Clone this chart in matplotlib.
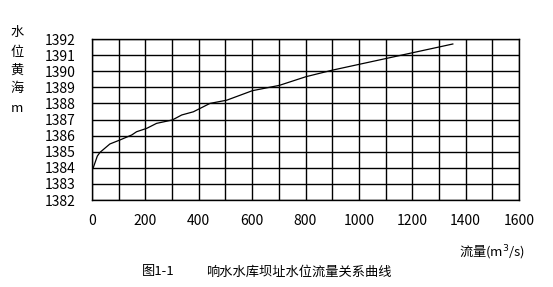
import numpy as np
import matplotlib
matplotlib.use('Agg')
import matplotlib.pyplot as plt

plt.rcParams['font.family'] = ['Noto Sans CJK SC', 'DejaVu Sans']

# stage-discharge curve
flow = [4, 20, 30, 67, 105, 149, 167, 205, 242, 301, 336, 380, 442, 505,
        601, 702, 802, 902, 1002, 1105, 1202, 1305, 1352]
level = [1383.97, 1384.73, 1384.96, 1385.48, 1385.73, 1386.04, 1386.24,
         1386.45, 1386.76, 1386.97, 1387.28, 1387.48, 1388.0, 1388.2,
         1388.79, 1389.12, 1389.66, 1390.07, 1390.43, 1390.8, 1391.15,
         1391.52, 1391.69]
xticks = [0, 200, 400, 600, 800, 1000, 1200, 1400, 1600]
yticks = [1382, 1383, 1384, 1385, 1386, 1387, 1388, 1389, 1390, 1391, 1392]

W, H = 553, 287
fig = plt.figure(figsize=(W / 100, H / 100), dpi=100)
ax = fig.add_axes([92 / W, 1 - 200 / H, 427 / W, 161 / H])

ax.plot(flow, level, color='black', lw=0.9)
ax.set_xlim(0, 1600)
ax.set_ylim(1382, 1392)
ax.set_xticks(xticks)
ax.set_xticks(np.arange(0, 1601, 100), minor=True)
ax.set_yticks(yticks)
ax.grid(True, which='both', color='black', lw=1.0)
ax.tick_params(which='both', length=0, labelsize=10, colors='black')
ax.tick_params(axis='x', pad=10)
ax.tick_params(axis='y', pad=12)
for s in ax.spines.values():
    s.set_linewidth(1.0)

# vertical y label
for ch, y in zip(['水', '位', '黄', '海', 'm'], [33, 52, 70, 88, 108]):
    fig.text(17 / W, 1 - y / H, ch, ha='center', va='center', fontsize=9.5)

fig.text(525 / W, 1 - 253 / H, '流量(m$^3$/s)', ha='right', va='center', fontsize=9.5)
fig.text(142 / W, 1 - 272 / H, '图1-1', ha='left', va='center', fontsize=9.5)
fig.text(206 / W, 1 - 272 / H, '响水水库坝址水位流量关系曲线', ha='left', va='center', fontsize=9.5)

fig.savefig('out.png', dpi=100)
